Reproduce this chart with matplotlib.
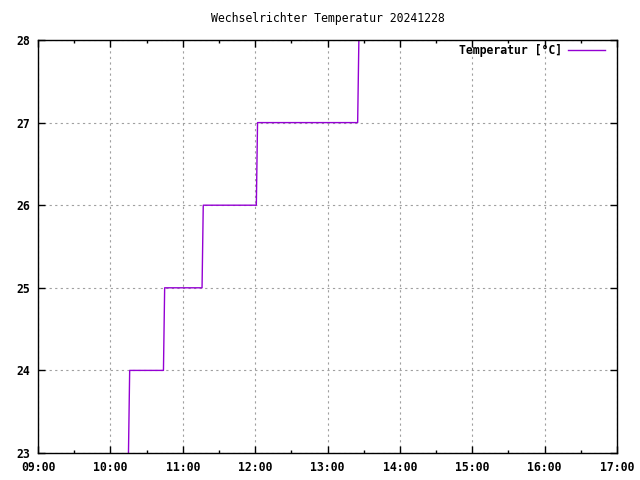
import matplotlib
matplotlib.use('Agg')
import matplotlib.pyplot as plt
from matplotlib.ticker import MultipleLocator

# Messwerte (Uhrzeit, Temperatur)
zeiten = ['10:15', '10:16', '10:44', '10:45', '11:16', '11:17',
          '12:01', '12:02', '13:25', '13:26']
temperatur = [23, 24, 24, 25, 25, 26, 26, 27, 27, 28]

x_ticks = ['09:00', '10:00', '11:00', '12:00', '13:00', '14:00', '15:00', '16:00', '17:00']
y_ticks = [23, 24, 25, 26, 27, 28]


def to_hours(s):
    h, m = s.split(':')
    return int(h) + int(m) / 60.0


x = [to_hours(t) for t in zeiten]

plt.rcParams['font.family'] = 'DejaVu Sans Mono'
plt.rcParams['font.weight'] = 'bold'
plt.rcParams['font.size'] = 8.3

fig = plt.figure(figsize=(6.4, 4.8), dpi=100)
ax = fig.add_axes([38/640, 1 - 453/480, (617 - 38)/640, (453 - 40)/480])

ax.plot(x, temperatur, color='#9400d3', lw=1.0, label='Temperatur [°C]')

ax.set_xlim(9, 17)
ax.set_ylim(23, 28)
ax.set_xticks([to_hours(t) for t in x_ticks])
ax.set_xticklabels(x_ticks)
ax.xaxis.set_minor_locator(MultipleLocator(0.5))
ax.set_yticks(y_ticks)
ax.set_yticklabels([str(v) for v in y_ticks])

ax.grid(True, which='major', color='#a0a0a0', linestyle=(0, (2, 3)), lw=0.8)
ax.tick_params(which='both', direction='in', top=True, right=True, width=1, pad=6)
ax.tick_params(which='major', length=5)
ax.tick_params(which='minor', length=2.5)
for sp in ax.spines.values():
    sp.set_linewidth(1)

ax.set_title('Wechselrichter Temperatur 20241228', fontsize=8.3, pad=13)

leg = ax.legend(loc='upper right', frameon=False, markerfirst=False,
                bbox_to_anchor=(0.979, 0.99), borderaxespad=0, borderpad=0,
                handlelength=3.2, handletextpad=0.5, fontsize=8.3)

fig.savefig('out.png', dpi=100)
